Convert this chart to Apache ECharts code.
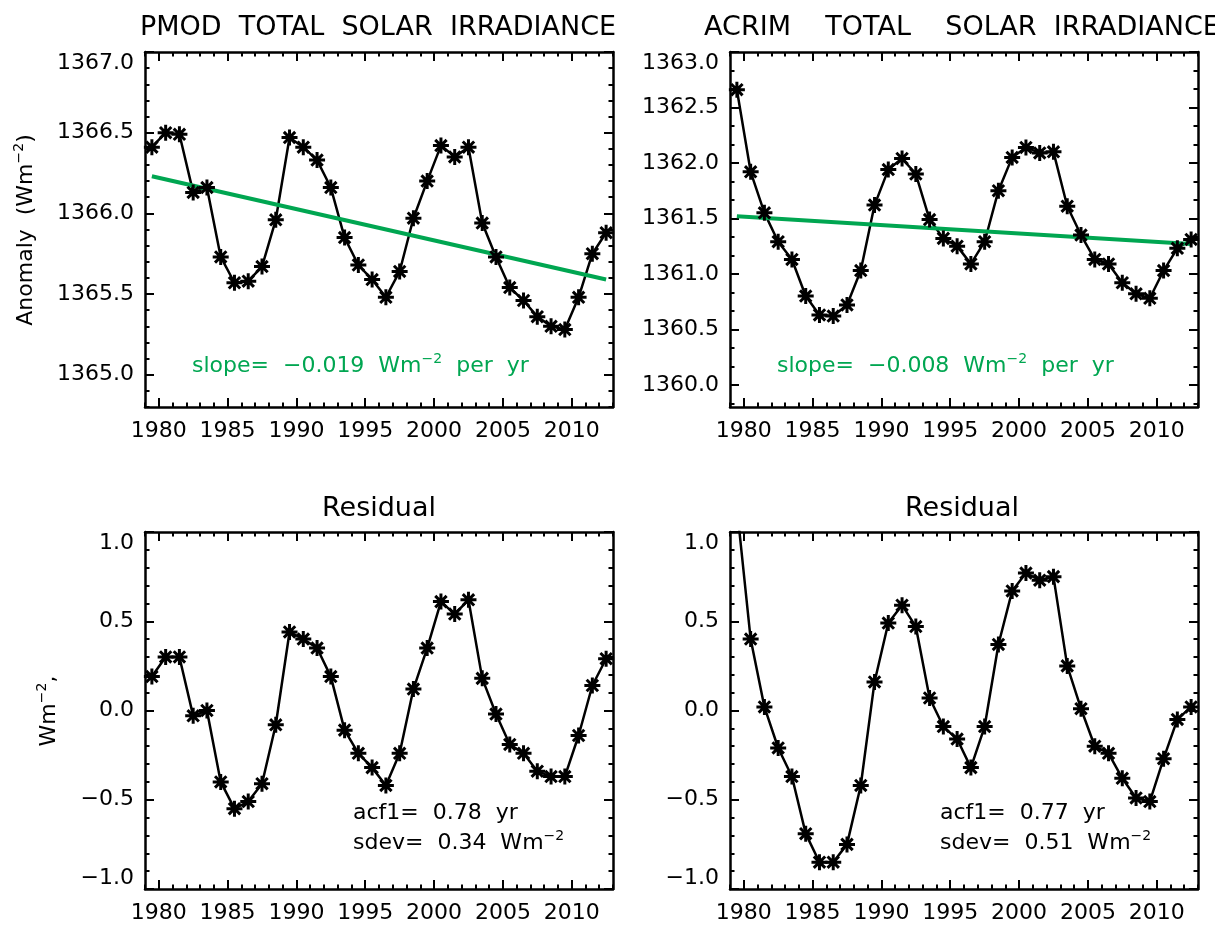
<!DOCTYPE html>
<html>
<head>
<meta charset="utf-8">
<script src="https://cdn.jsdelivr.net/npm/echarts@6.0.0/dist/echarts.min.js"></script>
<style>
html, body { margin: 0; padding: 0; background: #fff; }
#chart { width: 1215px; height: 928px; }
</style>
</head>
<body>
<div id="chart"></div>
<script>
// annual means, plotted at mid-year
var years = [1979.5, 1980.5, 1981.5, 1982.5, 1983.5, 1984.5, 1985.5, 1986.5, 1987.5, 1988.5,
    1989.5, 1990.5, 1991.5, 1992.5, 1993.5, 1994.5, 1995.5, 1996.5, 1997.5, 1998.5,
    1999.5, 2000.5, 2001.5, 2002.5, 2003.5, 2004.5, 2005.5, 2006.5, 2007.5, 2008.5,
    2009.5, 2010.5, 2011.5, 2012.5];

var pmod = [1366.41, 1366.50, 1366.49, 1366.13, 1366.16, 1365.73, 1365.57, 1365.58, 1365.67, 1365.96,
    1366.47, 1366.41, 1366.33, 1366.16, 1365.85, 1365.68, 1365.59, 1365.48, 1365.64, 1365.97,
    1366.20, 1366.42, 1366.35, 1366.41, 1365.94, 1365.73, 1365.54, 1365.46, 1365.36, 1365.30,
    1365.28, 1365.48, 1365.75, 1365.88];

var acrim = [1362.66, 1361.92, 1361.55, 1361.29, 1361.13, 1360.80, 1360.63, 1360.62, 1360.72, 1361.03,
    1361.62, 1361.94, 1362.04, 1361.90, 1361.49, 1361.32, 1361.25, 1361.09, 1361.29, 1361.75,
    1362.05, 1362.14, 1362.09, 1362.10, 1361.61, 1361.35, 1361.13, 1361.09, 1360.92, 1360.82,
    1360.78, 1361.03, 1361.23, 1361.31];

var resPmod = [0.19, 0.30, 0.30, -0.03, 0.00, -0.40, -0.55, -0.51, -0.41, -0.08,
    0.44, 0.40, 0.35, 0.19, -0.11, -0.24, -0.32, -0.42, -0.24, 0.12,
    0.35, 0.61, 0.54, 0.62, 0.18, -0.02, -0.19, -0.24, -0.34, -0.37,
    -0.37, -0.14, 0.14, 0.29];

var resAcrim = [1.14, 0.40, 0.02, -0.21, -0.37, -0.69, -0.85, -0.85, -0.75, -0.42,
    0.16, 0.49, 0.59, 0.47, 0.07, -0.09, -0.16, -0.32, -0.09, 0.37,
    0.67, 0.77, 0.73, 0.75, 0.25, 0.01, -0.20, -0.24, -0.38, -0.49,
    -0.51, -0.27, -0.05, 0.02];

// linear fits (end points)
var trendYears = [1979.5, 2012.5];
var pmodTrend = [1366.23, 1365.59];
var acrimTrend = [1361.52, 1361.27];

// tick labels
var yearTicks = [1980, 1985, 1990, 1995, 2000, 2005, 2010];
var pmodTicks = [1365.0, 1365.5, 1366.0, 1366.5, 1367.0];
var acrimTicks = [1360.0, 1360.5, 1361.0, 1361.5, 1362.0, 1362.5, 1363.0];
var resTicks = [-1.0, -0.5, 0.0, 0.5, 1.0];

var FONT = '"DejaVu Sans", "Liberation Sans", sans-serif';
var GREEN = '#00a651';
var star = 'path://M0,-8L0,8M-8,0L8,0M-5.7,-5.7L5.7,5.7M-5.7,5.7L5.7,-5.7';

// minor tick positions between/around the major ticks
function minors(min, max, major, n) {
    var step = (major[1] - major[0]) / n;
    var v = major[0];
    while (v - step >= min - 1e-9) v -= step;
    var out = [];
    for (; v <= max + 1e-9; v += step) out.push(+v.toFixed(4));
    return out;
}

var panels = [
    { grid: { left: 145, top: 52, width: 468, height: 355 }, ymin: 1364.8, ymax: 1367.0,
      ticks: pmodTicks, nminor: 5, values: pmod, trend: pmodTrend, topLabel: true },
    { grid: { left: 730, top: 52, width: 468, height: 355 }, ymin: 1359.8, ymax: 1363.0,
      ticks: acrimTicks, nminor: 3, values: acrim, trend: acrimTrend, topLabel: true },
    { grid: { left: 145, top: 532, width: 468, height: 357 }, ymin: -1, ymax: 1,
      ticks: resTicks, nminor: 5, values: resPmod, bothLabels: true },
    { grid: { left: 730, top: 532, width: 468, height: 357 }, ymin: -1, ymax: 1,
      ticks: resTicks, nminor: 5, values: resAcrim, bothLabels: true }
];

var yearMinor = minors(1979, 2013, yearTicks, 5);
var boxLine = { show: true, onZero: false, lineStyle: { color: '#000', width: 2.5 } };
var noLine = { show: false, onZero: false };
function tick(vals, len) {
    return { show: true, inside: true, length: len, customValues: vals, lineStyle: { color: '#000', width: 2 } };
}
function fmt(v) {
    return v.toFixed(1).replace('-', '\u2212');
}

var grids = [], xAxes = [], yAxes = [], series = [];
panels.forEach(function (p, g) {
    grids.push(p.grid);
    var xb = { gridIndex: g, type: 'value', min: 1979, max: 2013, splitLine: { show: false } };
    xAxes.push(Object.assign({}, xb, { position: 'bottom', axisLine: boxLine, axisTick: tick(yearTicks, 9),
        axisLabel: { customValues: yearTicks, color: '#000', fontSize: 22, fontFamily: FONT, margin: 13,
            formatter: function (v) { return String(v); } } }));
    xAxes.push(Object.assign({}, xb, { position: 'bottom', axisLine: noLine, axisTick: tick(yearMinor, 4.5), axisLabel: { show: false } }));
    xAxes.push(Object.assign({}, xb, { position: 'top', axisLine: boxLine, axisTick: tick(yearTicks, 9), axisLabel: { show: false } }));
    xAxes.push(Object.assign({}, xb, { position: 'top', axisLine: noLine, axisTick: tick(yearMinor, 4.5), axisLabel: { show: false } }));

    var yMinor = minors(p.ymin, p.ymax, p.ticks, p.nminor);
    var yb = { gridIndex: g, type: 'value', min: p.ymin, max: p.ymax, scale: true, splitLine: { show: false } };
    var lab = { customValues: p.ticks, color: '#000', fontSize: 22, fontFamily: FONT, margin: 11, formatter: fmt };
    if (p.topLabel || p.bothLabels) lab.verticalAlignMaxLabel = 'top';
    if (p.bothLabels) lab.verticalAlignMinLabel = 'bottom';
    yAxes.push(Object.assign({}, yb, { position: 'left', axisLine: boxLine, axisTick: tick(p.ticks, 9), axisLabel: lab }));
    yAxes.push(Object.assign({}, yb, { position: 'left', axisLine: noLine, axisTick: tick(yMinor, 4.5), axisLabel: { show: false } }));
    yAxes.push(Object.assign({}, yb, { position: 'right', axisLine: boxLine, axisTick: tick(p.ticks, 9), axisLabel: { show: false } }));
    yAxes.push(Object.assign({}, yb, { position: 'right', axisLine: noLine, axisTick: tick(yMinor, 4.5), axisLabel: { show: false } }));

    series.push({
        type: 'line',
        xAxisIndex: g * 4,
        yAxisIndex: g * 4,
        clip: true,
        symbol: star,
        symbolSize: 16,
        showAllSymbol: true,
        lineStyle: { color: '#000', width: 2.5 },
        itemStyle: { color: '#000', borderColor: '#000', borderWidth: 3 },
        data: years.map(function (y, i) { return [y, p.values[i]]; })
    });
    if (p.trend) {
        series.push({
            type: 'line',
            xAxisIndex: g * 4,
            yAxisIndex: g * 4,
            symbol: 'none',
            z: 3,
            lineStyle: { color: GREEN, width: 4 },
            data: trendYears.map(function (y, i) { return [y, p.trend[i]]; })
        });
    }
});

function txt(text, x, y, opt) {
    opt = opt || {};
    return {
        type: 'text', x: x, y: y, rotation: opt.rot || 0, silent: true,
        style: {
            text: text, fill: opt.color || '#000',
            font: (opt.size || 22) + 'px ' + FONT,
            align: opt.align || 'left', verticalAlign: 'middle',
            rich: opt.rich
        }
    };
}
function richSup(size) {
    return {
        n: { fontSize: size, fontFamily: FONT, lineHeight: size + 6 },
        s: { fontSize: Math.round(size * 0.62), fontFamily: FONT, verticalAlign: 'top', lineHeight: size + 6 }
    };
}

var graphics = [
    txt('PMOD  TOTAL  SOLAR  IRRADIANCE', 378, 28, { size: 27, align: 'center' }),
    txt('ACRIM    TOTAL    SOLAR  IRRADIANCE', 962, 28, { size: 27, align: 'center' }),
    txt('Residual', 379, 509, { size: 27, align: 'center' }),
    txt('Residual', 962, 509, { size: 27, align: 'center' }),
    txt('{n|Anomaly  (Wm}{s|\u22122}{n|)}', 26, 230, { size: 22, align: 'center', rot: Math.PI / 2, rich: richSup(22) }),
    txt('{n|Wm}{s|\u22122}{n|,}', 49, 711, { size: 22, align: 'center', rot: Math.PI / 2, rich: richSup(22) }),
    txt('{n|slope=  \u22120.019  Wm}{s|\u22122}{n|  per  yr}', 192, 366, { color: GREEN, rich: richSup(22) }),
    txt('{n|slope=  \u22120.008  Wm}{s|\u22122}{n|  per  yr}', 777, 366, { color: GREEN, rich: richSup(22) }),
    txt('acf1=  0.78  yr', 353, 813),
    txt('{n|sdev=  0.34  Wm}{s|\u22122}', 353, 843, { rich: richSup(22) }),
    txt('acf1=  0.77  yr', 940, 813),
    txt('{n|sdev=  0.51  Wm}{s|\u22122}', 940, 843, { rich: richSup(22) })
];

var option = {
    backgroundColor: '#fff',
    animation: false,
    grid: grids,
    xAxis: xAxes,
    yAxis: yAxes,
    series: series,
    graphic: graphics
};

var myChart = echarts.init(document.getElementById('chart'), null, { renderer: 'canvas' });
myChart.setOption(option);
</script>
</body>
</html>
